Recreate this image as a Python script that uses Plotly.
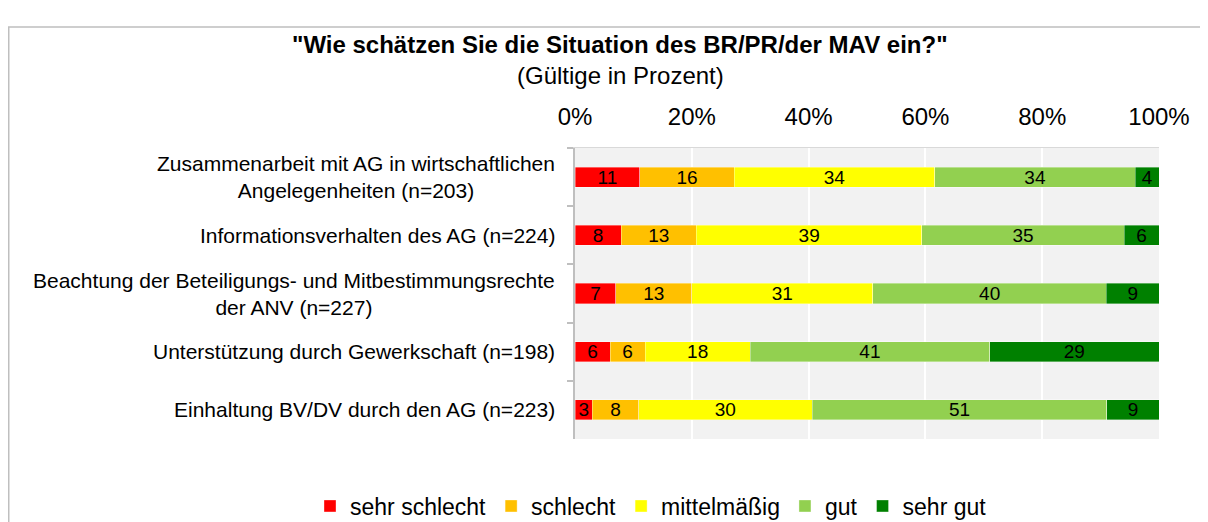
import plotly.graph_objects as go

categories = [
    "Zusammenarbeit mit AG in wirtschaftlichen<br>Angelegenheiten (n=203)",
    "Informationsverhalten des AG (n=224)",
    "Beachtung der Beteiligungs- und Mitbestimmungsrechte<br>der ANV (n=227)",
    "Unterstützung durch Gewerkschaft (n=198)",
    "Einhaltung BV/DV durch den AG (n=223)",
]
series_names = ["sehr schlecht", "schlecht", "mittelmäßig", "gut", "sehr gut"]
sehr_schlecht = [11, 8, 7, 6, 3]
schlecht = [16, 13, 13, 6, 8]
mittelmaessig = [34, 39, 31, 18, 30]
gut = [34, 35, 40, 41, 51]
sehr_gut = [4, 6, 9, 29, 9]
series_values = [sehr_schlecht, schlecht, mittelmaessig, gut, sehr_gut]
colors = ["#FF0000", "#FFC000", "#FFFF00", "#92D050", "#008000"]
tick_vals = [0, 20, 40, 60, 80, 100]
tick_labels = ["0%", "20%", "40%", "60%", "80%", "100%"]
title_text = '<b>"Wie schätzen Sie die Situation des BR/PR/der MAV ein?"</b>'
subtitle_text = "(Gültige in Prozent)"

FONT = "Liberation Sans, Arial, sans-serif"
# the page body adds an 8px margin; the figure runs a little past the window's
# bottom edge so that the legend has room without shrinking the plot area
OFF = 8
W, H = 1208 - OFF, 540
PL, PR, PT, PB = 575, 1159, 148, 439          # plot area in page pixels
L, R, T, B = PL - OFF, W - (PR - OFF), PT - OFF, H - (PB - OFF)
plot_w, plot_h = PR - PL, PB - PT


def px(page_x):
    return (page_x - PL) / plot_w


def py(page_y):
    return (PB - page_y) / plot_h


fig = go.Figure()
for name, vals, col in zip(series_names, series_values, colors):
    fig.add_trace(go.Bar(
        y=categories, x=vals, name=name, orientation="h",
        marker=dict(color=col, line=dict(color="rgba(255,255,255,0.45)", width=0.8)),
        text=[str(v) for v in vals], textposition="inside",
        insidetextanchor="middle", constraintext="none", textangle=0,
        textfont=dict(family=FONT, size=19, color="black"),
    ))

annotations = []
for cat in categories:
    annotations.append(dict(
        xref="paper", yref="y", x=px(557), y=cat,
        text=cat, showarrow=False, xanchor="right", yanchor="middle",
        align="center",
        font=dict(family=FONT, size=21, color="black"),
    ))

annotations.append(dict(xref="paper", yref="paper", x=px(620), y=py(45),
                        text=title_text, showarrow=False,
                        xanchor="center", yanchor="middle",
                        font=dict(family=FONT, size=24, color="black")))
annotations.append(dict(xref="paper", yref="paper", x=px(620), y=py(75),
                        text=subtitle_text, showarrow=False,
                        xanchor="center", yanchor="middle",
                        font=dict(family=FONT, size=24, color="black")))

fig.update_layout(
    width=W, height=H,
    margin=dict(l=L, r=R, t=T, b=B, pad=0),
    barmode="stack", barnorm="percent", bargap=0.656,
    plot_bgcolor="#F2F2F2", paper_bgcolor="white",
    font=dict(family=FONT, size=21, color="black"),
    showlegend=True,
    legend=dict(orientation="h", xref="paper", yref="paper",
                x=px(310), y=py(506), xanchor="left", yanchor="middle",
                font=dict(family=FONT, size=23, color="black"),
                traceorder="normal", itemwidth=30, bgcolor="rgba(0,0,0,0)"),
    annotations=annotations,
    shapes=[dict(type="rect", xref="paper", yref="paper",
                 x0=px(8.75), x1=1.5,
                 y0=-1.0, y1=py(27),
                 line=dict(color="#BFBFBF", width=1.5), fillcolor="rgba(0,0,0,0)",
                 layer="below")],
    xaxis=dict(side="top", range=[0, 100], tickvals=tick_vals, ticktext=tick_labels,
               showgrid=True, gridcolor="white", gridwidth=1.5, zeroline=False,
               showline=True, linecolor="#D9D9D9", linewidth=1, ticks="",
               ticklabelstandoff=12,
               tickfont=dict(family=FONT, size=24, color="black"), fixedrange=True),
    yaxis=dict(autorange="reversed", showticklabels=False, showgrid=False,
               showline=True, linecolor="#BFBFBF", linewidth=1.5,
               ticks="outside", tickson="boundaries", ticklen=6, tickcolor="#BFBFBF",
               tickwidth=1.5, fixedrange=True),
)

fig.write_html("out.html")
